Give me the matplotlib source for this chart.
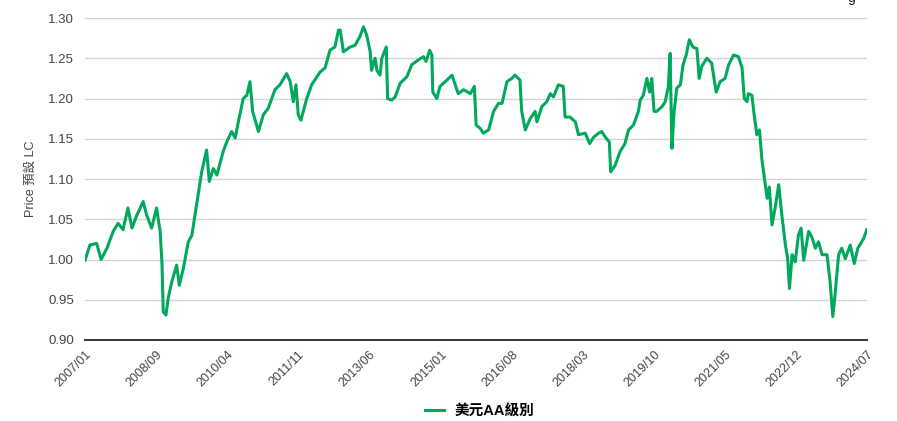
import matplotlib
matplotlib.use("Agg")
import matplotlib.pyplot as plt
import numpy as np

FONTS = ["Liberation Sans", "Noto Sans CJK TC", "DejaVu Sans"]
plt.rcParams["font.family"] = FONTS

SERIES_NAME = "美元AA級別"
Y_LABEL = "Price 預設 LC"
LINE_COLOR = "#00a95c"

# decimal year / price
years = [
    2007.00, 2007.11, 2007.26, 2007.36, 2007.49, 2007.63, 2007.74, 2007.85, 2007.96, 2008.05,
    2008.16, 2008.30, 2008.38, 2008.49, 2008.60, 2008.68, 2008.72, 2008.75, 2008.81, 2008.86,
    2008.94, 2009.05, 2009.11, 2009.20, 2009.31, 2009.39, 2009.46, 2009.54, 2009.61, 2009.72,
    2009.78, 2009.87, 2009.95, 2010.09, 2010.17, 2010.28, 2010.36, 2010.43, 2010.54, 2010.62,
    2010.69, 2010.75, 2010.88, 2010.99, 2011.10, 2011.25, 2011.36, 2011.51, 2011.59, 2011.66,
    2011.72, 2011.77, 2011.83, 2011.96, 2012.07, 2012.26, 2012.37, 2012.48, 2012.59, 2012.67,
    2012.71, 2012.78, 2012.93, 2013.04, 2013.15, 2013.23, 2013.30, 2013.38, 2013.41, 2013.49,
    2013.53, 2013.60, 2013.64, 2013.74, 2013.77, 2013.86, 2013.94, 2014.05, 2014.20, 2014.31,
    2014.46, 2014.57, 2014.63, 2014.71, 2014.76, 2014.78, 2014.87, 2014.94, 2015.06, 2015.21,
    2015.35, 2015.47, 2015.62, 2015.71, 2015.75, 2015.84, 2015.91, 2016.03, 2016.14, 2016.25,
    2016.33, 2016.44, 2016.55, 2016.62, 2016.73, 2016.77, 2016.85, 2016.96, 2017.07, 2017.11,
    2017.22, 2017.33, 2017.41, 2017.48, 2017.59, 2017.70, 2017.74, 2017.85, 2017.97, 2018.04,
    2018.19, 2018.29, 2018.38, 2018.49, 2018.56, 2018.64, 2018.73, 2018.76, 2018.86, 2018.97,
    2019.08, 2019.16, 2019.27, 2019.38, 2019.42, 2019.49, 2019.57, 2019.63, 2019.68, 2019.73,
    2019.79, 2019.91, 2019.98, 2020.05, 2020.09, 2020.13, 2020.18, 2020.24, 2020.32, 2020.38,
    2020.45, 2020.52, 2020.60, 2020.69, 2020.74, 2020.80, 2020.91, 2021.02, 2021.12, 2021.21,
    2021.32, 2021.40, 2021.51, 2021.62, 2021.70, 2021.75, 2021.81, 2021.84, 2021.92, 2021.97,
    2022.03, 2022.09, 2022.14, 2022.20, 2022.26, 2022.31, 2022.37, 2022.44, 2022.52, 2022.59,
    2022.67, 2022.72, 2022.76, 2022.82, 2022.89, 2022.96, 2023.02, 2023.08, 2023.19, 2023.26,
    2023.34, 2023.41, 2023.49, 2023.60, 2023.67, 2023.73, 2023.78, 2023.86, 2023.93, 2024.01,
    2024.12, 2024.21, 2024.29, 2024.42, 2024.49,
]
prices = [
    0.999, 1.018, 1.020, 1.000, 1.014, 1.035, 1.045, 1.037, 1.064, 1.039,
    1.055, 1.072, 1.055, 1.039, 1.064, 1.035, 0.997, 0.935, 0.931, 0.952,
    0.972, 0.993, 0.968, 0.989, 1.022, 1.030, 1.055, 1.084, 1.109, 1.136,
    1.097, 1.113, 1.105, 1.134, 1.146, 1.159, 1.151, 1.171, 1.200, 1.204,
    1.221, 1.184, 1.159, 1.180, 1.188, 1.211, 1.217, 1.231, 1.221, 1.196,
    1.217, 1.180, 1.173, 1.200, 1.217, 1.233, 1.238, 1.260, 1.264, 1.285,
    1.285, 1.258, 1.264, 1.266, 1.277, 1.289, 1.279, 1.258, 1.235, 1.250,
    1.235, 1.229, 1.250, 1.264, 1.200, 1.198, 1.202, 1.219, 1.227, 1.242,
    1.248, 1.252, 1.246, 1.260, 1.254, 1.208, 1.200, 1.215, 1.221, 1.229,
    1.206, 1.211, 1.206, 1.215, 1.167, 1.163, 1.157, 1.161, 1.184, 1.194,
    1.194, 1.221, 1.225, 1.229, 1.223, 1.184, 1.161, 1.175, 1.184, 1.171,
    1.190, 1.196, 1.206, 1.202, 1.217, 1.215, 1.177, 1.177, 1.171, 1.155,
    1.157, 1.144, 1.152, 1.157, 1.159, 1.152, 1.146, 1.109, 1.117, 1.134,
    1.144, 1.161, 1.167, 1.184, 1.198, 1.204, 1.225, 1.208, 1.225, 1.184,
    1.184, 1.190, 1.196, 1.215, 1.256, 1.138, 1.184, 1.213, 1.217, 1.242,
    1.254, 1.273, 1.264, 1.262, 1.225, 1.240, 1.250, 1.244, 1.208, 1.221,
    1.225, 1.242, 1.254, 1.252, 1.238, 1.200, 1.196, 1.206, 1.204, 1.180,
    1.155, 1.161, 1.126, 1.101, 1.076, 1.090, 1.043, 1.064, 1.093, 1.055,
    1.018, 1.001, 0.964, 1.006, 0.997, 1.030, 1.039, 0.999, 1.035, 1.028,
    1.014, 1.022, 1.006, 1.006, 0.972, 0.929, 0.956, 1.006, 1.014, 1.001,
    1.018, 0.995, 1.014, 1.026, 1.037,
]

x_labels = ["2007/01", "2008/09", "2010/04", "2011/11", "2013/06", "2015/01",
            "2016/08", "2018/03", "2019/10", "2021/05", "2022/12", "2024/07"]
y_ticks = [0.90, 0.95, 1.00, 1.05, 1.10, 1.15, 1.20, 1.25, 1.30]
X_START, X_END = 2007.0, 2024.5

fig = plt.figure(figsize=(8.97, 4.21), dpi=100)
ax = fig.add_axes([0.0948, 0.1924, 0.872, 0.7648])

ax.plot(years, prices, color=LINE_COLOR, lw=2.2, label=SERIES_NAME, solid_joinstyle="round")

ax.set_xlim(X_START, X_END)
ax.set_ylim(0.90, 1.30)
ax.set_yticks(y_ticks)
ax.set_yticklabels([f"{v:.2f}" for v in y_ticks])
ax.set_xticks(np.linspace(X_START, X_END, len(x_labels)))
ax.set_xticklabels(x_labels, rotation=45, ha="right", rotation_mode="anchor")
ax.tick_params(axis="y", length=0, labelsize=9.5, labelcolor="#444444", pad=8)
ax.tick_params(axis="x", length=0, labelsize=9, labelcolor="#444444", pad=6)

ax.grid(axis="y", color="#d4d4d4", lw=1.0)
ax.set_axisbelow(True)
for side in ("top", "right", "left"):
    ax.spines[side].set_visible(False)
ax.spines["bottom"].set_color("#333333")
ax.spines["bottom"].set_linewidth(1.4)

ax.set_ylabel(Y_LABEL, fontsize=9, color="#444444", labelpad=8)

fig.legend(loc="lower center", bbox_to_anchor=(0.535, -0.025), frameon=False,
           handlelength=1.3, handletextpad=0.7,
           prop={"family": FONTS, "size": 10.5, "weight": "bold"})

fig.text(0.945, 0.996, "g", fontsize=10, va="baseline", color="#222222")

fig.savefig("out.png", dpi=100)
